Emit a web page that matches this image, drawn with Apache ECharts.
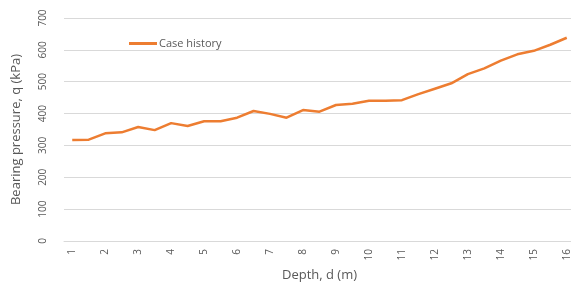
<!DOCTYPE html>
<html>
<head>
<meta charset="utf-8">
<script src="https://cdn.jsdelivr.net/npm/echarts@6/dist/echarts.min.js"></script>
<style>
  html, body { margin: 0; padding: 0; background: #fff; }
  #chart { width: 571px; height: 282px; }
</style>
</head>
<body>
<div id="chart"></div>
<script>
// depth steps of 0.5 m, only whole metres get a label
var depths = ["1", "1.5", "2", "2.5", "3", "3.5", "4", "4.5", "5", "5.5", "6", "6.5", "7", "7.5", "8", "8.5",
  "9", "9.5", "10", "10.5", "11", "11.5", "12", "12.5", "13", "13.5", "14", "14.5", "15", "15.5", "16"];
var caseHistory = [317, 318, 338, 341, 358, 348, 370, 361, 376, 376, 387, 408, 399, 387, 411, 406,
  427, 431, 440, 440, 442, 461, 478, 495, 524, 542, 566, 586, 597, 616, 638];
var yTicks = [0, 700, 100];

var gray = "#595959";
var font = "'Open Sans', 'Noto Sans', sans-serif";

var myChart = echarts.init(document.getElementById("chart"));
myChart.setOption({
  animation: false,
  textStyle: { fontFamily: font },
  legend: {
    left: 124,
    top: 33,
    itemWidth: 28,
    itemHeight: 3,
    itemGap: 4,
    textStyle: { color: gray, fontSize: 11, fontFamily: font, padding: [0, 0, 0, -3] },
    data: [{ name: "Case history", icon: "rect" }]
  },
  grid: { left: 64, top: 18, bottom: 41, width: 511, outerBoundsMode: "none", containLabel: false },
  xAxis: {
    type: "category",
    data: depths,
    boundaryGap: true,
    name: "Depth, d (m)",
    nameLocation: "middle",
    nameGap: 24,
    nameTextStyle: { color: gray, fontSize: 13, fontFamily: font },
    axisLine: { show: true, lineStyle: { color: "#d9d9d9" } },
    axisTick: { show: false },
    axisLabel: { interval: 1, rotate: 90, color: gray, fontSize: 10, margin: 8, fontFamily: font },
    splitLine: { show: false }
  },
  yAxis: {
    type: "value",
    min: yTicks[0],
    max: yTicks[1],
    interval: yTicks[2],
    name: "Bearing pressure, q (kPa)",
    nameLocation: "middle",
    nameRotate: 90,
    nameGap: 41,
    nameTextStyle: { color: gray, fontSize: 13, fontFamily: font },
    axisLine: { show: false },
    axisTick: { show: false },
    axisLabel: { rotate: 90, color: gray, fontSize: 10, margin: 16, fontFamily: font },
    splitLine: { lineStyle: { color: "#d9d9d9", width: 1 } }
  },
  series: [
    {
      name: "Case history",
      type: "line",
      data: caseHistory,
      symbol: "none",
      color: "#ED7D31",
      lineStyle: { color: "#ED7D31", width: 2.5 }
    }
  ]
});
</script>
</body>
</html>
